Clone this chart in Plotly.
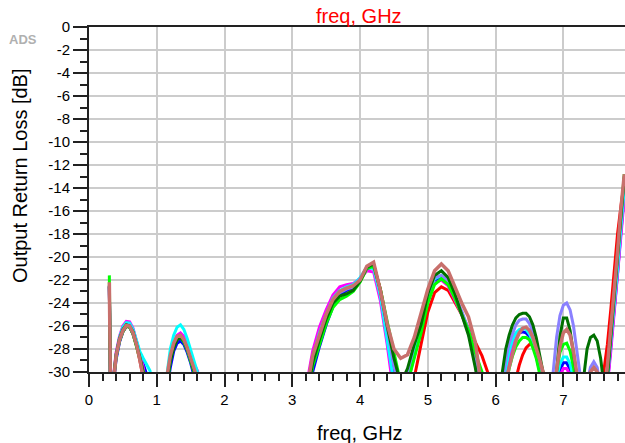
import plotly.graph_objects as go

# ---------------- data ----------------
freq_ghz = [
    0.30, 0.32, 0.35, 0.40, 0.45, 0.50, 0.55, 0.60, 0.65, 0.70, 0.75, 0.80, 0.85, 0.90, 0.95, 1.00,
    1.10, 1.15, 1.20, 1.25, 1.30, 1.35, 1.40, 1.45, 1.50, 1.55, 1.60, 1.65, 1.70,
    3.10,
    3.20, 3.30, 3.40, 3.50, 3.60, 3.70, 3.80, 3.90, 4.00, 4.10, 4.20, 4.30, 4.40, 4.50,
    4.60, 4.70, 4.80, 4.90, 5.00, 5.10, 5.20, 5.30, 5.40, 5.50, 5.60, 5.70, 5.80, 5.90,
    6.00, 6.05, 6.10, 6.15, 6.20, 6.25, 6.30, 6.35, 6.40, 6.45,
    6.50, 6.55, 6.60, 6.65, 6.70, 6.75, 6.80, 6.85, 6.90, 6.95,
    7.00, 7.05, 7.10, 7.15, 7.20, 7.25, 7.30, 7.35, 7.40, 7.45,
    7.50, 7.55, 7.60, 7.65, 7.70, 7.75, 7.80, 7.85, 7.90,
]

s22_red = [
    -22.6, -33, -31.5, -28.7, -27.3, -26.5, -26.05, -26.1, -26.7, -27.7, -29.0, -30.4, -32, -34, -36, -38,
    -33.5, -31, -29.0, -27.8, -27.2, -27.0, -27.3, -28.0, -28.9, -29.8, -31, -32.5, -34,
    -36,
    -32.5, -29, -27, -25.2, -23.9, -23.2, -22.9, -22.7, -22.1, -21.0, -20.7, -22.8, -25.8, -28.8,
    -31.5, -32, -30.5, -27.6, -24.8, -23.1, -22.6, -22.9, -23.9, -25.0, -26.2, -27.4, -28.6, -30.3,
    -35, -36, -36, -34.5, -33, -31.8, -30.6, -29.4, -28.5, -27.9,
    -27.6, -27.6, -28.0, -28.9, -30.0, -31.5, -33, -34, -33, -32,
    -31.2, -31.2, -32, -33, -34.5, -35.5, -36, -35, -34, -33.5,
    -33, -32.5, -29.8, -27.6, -24.6, -21.2, -18.0, -15.6, -13.4,
]

s22_blue = [
    -22.6, -33, -31.6, -28.9, -27.4, -26.5, -26.0, -26.1, -26.7, -27.7, -28.6, -29.3, -30.2, -32, -35, -38,
    -34, -31.5, -29.6, -28.2, -27.5, -27.3, -27.6, -28.3, -29.2, -30.2, -31.5, -33, -35,
    -36,
    -33, -30, -27.8, -25.9, -24.3, -23.3, -22.9, -22.6, -22.0, -21.0, -20.9, -23.2, -26.6, -30.5,
    -33, -31, -28.4, -25.8, -23.4, -22.1, -21.7, -22.3, -23.5, -24.9, -26.6, -29.0, -32, -34,
    -36, -34, -31.8, -29.9, -28.5, -27.5, -26.9, -26.6, -26.5, -26.6,
    -26.9, -27.6, -28.6, -29.8, -31.2, -33, -34, -33, -31.0, -29.8,
    -29.2, -29.2, -29.8, -31.0, -33, -35, -36, -35, -33, -32.5,
    -33, -34, -33.5, -31, -28.0, -24.8, -21.4, -17.8, -14.5,
]

s22_magenta = [
    -22.5, -33, -31, -28.3, -26.9, -26.0, -25.6, -25.65, -26.2, -27.2, -28.4, -29.6, -31.2, -33.5, -36, -38,
    -33, -30.6, -28.6, -27.4, -26.8, -26.6, -26.9, -27.6, -28.5, -29.3, -29.9, -31.2, -34,
    -36,
    -31.5, -28.2, -26.1, -24.6, -23.3, -22.6, -22.4, -22.3, -21.9, -21.2, -21.3, -23.8, -27.6, -32,
    -34, -31, -28.6, -26.0, -23.6, -22.3, -22.0, -22.5, -23.7, -25.0, -26.6, -29.0, -32, -34,
    -37, -35, -32.5, -30.6, -29.0, -27.8, -27.0, -26.5, -26.2, -26.2,
    -26.4, -27.0, -27.9, -29.0, -30.3, -32, -34, -33.5, -31.5, -30.3,
    -29.7, -29.7, -30.3, -31.5, -33, -35, -36, -35, -33.5, -33,
    -33.5, -34, -33.5, -31.2, -28.2, -25.0, -21.6, -18.0, -14.8,
]

s22_cyan = [
    -22.5, -33, -31.2, -28.5, -27.0, -26.1, -25.7, -25.75, -26.3, -27.3, -28.2, -28.8, -29.3, -29.9, -32, -36,
    -32.5, -30.0, -28.0, -26.8, -26.1, -25.9, -26.3, -27.1, -28.1, -29.1, -30.0, -31.5, -34,
    -36,
    -32, -28.8, -26.6, -25.0, -23.6, -22.9, -22.6, -22.4, -21.8, -20.9, -21.0, -23.4, -27.0, -31,
    -33, -30.6, -28.0, -25.5, -23.2, -21.9, -21.6, -22.2, -23.4, -24.8, -26.4, -28.9, -32, -34,
    -36, -34, -31.5, -29.6, -28.2, -27.2, -26.6, -26.3, -26.2, -26.3,
    -26.7, -27.4, -28.4, -29.7, -31.2, -33, -34, -32.5, -30.5, -29.3,
    -28.7, -28.7, -29.3, -30.6, -32.5, -34.5, -35.5, -34.5, -32.5, -32,
    -32.5, -33.5, -33, -30.6, -27.6, -24.4, -21.0, -17.4, -14.0,
]

s22_purple = [
    -22.5, -33, -31.4, -28.6, -27.2, -26.3, -25.9, -25.95, -26.55, -27.5, -28.8, -30.1, -31.8, -34, -36, -38,
    -33, -30.6, -28.8, -27.6, -27.0, -26.9, -27.3, -28.0, -28.9, -29.7, -30.7, -32, -34,
    -36,
    -32.5, -29.2, -27.0, -25.3, -23.9, -23.1, -22.8, -22.6, -21.9, -20.9, -20.8, -23.0, -26.2, -29.5,
    -32, -30.2, -27.6, -25.2, -23.0, -21.8, -21.6, -22.1, -23.3, -24.7, -26.3, -28.7, -32, -34,
    -35, -33, -30.8, -28.9, -27.5, -26.6, -25.9, -25.5, -25.4, -25.4,
    -25.8, -26.5, -27.6, -29.0, -30.7, -33, -33, -30.0, -27.0, -25.1,
    -24.2, -24.0, -24.6, -26.0, -28.0, -30.4, -32.5, -31, -29.6, -29.1,
    -29.6, -31.5, -32.5, -30.0, -26.8, -23.4, -20.0, -16.2, -13.2,
]

s22_green = [
    -21.6, -33, -31.3, -28.7, -27.3, -26.5, -26.0, -26.1, -26.7, -27.7, -28.8, -29.7, -31, -33.5, -36, -38,
    -33.5, -31, -29.0, -27.8, -27.1, -27.0, -27.4, -28.1, -29.0, -29.9, -31, -32.5, -34,
    -36,
    -33, -29.5, -27.6, -25.8, -24.4, -23.7, -23.4, -23.0, -22.2, -21.0, -20.8, -22.8, -25.6, -28.5,
    -31, -31, -28.8, -26.6, -24.0, -22.4, -21.9, -22.4, -23.6, -25.0, -26.4, -28.3, -30.0, -33,
    -37, -35, -33, -31.2, -29.7, -28.6, -27.8, -27.3, -27.0, -27.0,
    -27.2, -27.9, -28.8, -30.0, -31.5, -33, -34, -32.5, -30.0, -28.3,
    -27.6, -27.5, -28.2, -29.6, -31.5, -33.5, -35, -34, -32, -31.5,
    -32, -33, -33, -30.2, -26.8, -23.3, -19.8, -16.0, -12.8,
]

s22_darkgreen = [
    -22.5, -33, -31.2, -28.5, -27.1, -26.3, -25.9, -26.0, -26.5, -27.5, -28.7, -30.0, -31.8, -34, -36, -38,
    -33.5, -31, -29.1, -27.9, -27.2, -27.0, -27.3, -28.0, -28.9, -29.8, -30.9, -32.5, -34,
    -36,
    -32.5, -29.2, -27.2, -25.4, -24.0, -23.4, -23.2, -22.9, -22.1, -20.9, -20.6, -22.9, -26.0, -28.8,
    -31, -29.7, -27.6, -25.9, -23.2, -21.6, -21.2, -21.8, -23.2, -24.9, -26.8, -29.6, -33, -35,
    -35, -32, -29.8, -28.0, -26.8, -25.9, -25.3, -25.0, -24.9, -24.9,
    -25.2, -25.9, -27.0, -28.4, -30.0, -32, -34, -33, -30.0, -26.9,
    -25.3, -25.3, -26.4, -28.3, -30.4, -33, -30.3, -28.0, -27.0, -26.8,
    -27.3, -28.8, -31.2, -30.5, -27.0, -23.6, -20.2, -16.4, -13.0,
]

s22_rosy = [
    -22.2, -33, -31.5, -28.6, -27.2, -26.4, -25.95, -26.0, -26.6, -27.6, -28.9, -30.3, -32, -34, -36, -38,
    -33, -30.4, -28.6, -27.5, -26.9, -26.8, -27.2, -27.9, -28.8, -29.6, -30.6, -32, -34,
    -36,
    -32, -28.6, -26.7, -25.0, -23.7, -23.0, -22.7, -22.5, -22.0, -20.8, -20.45, -22.9, -25.8, -28.0,
    -28.8, -28.5, -27.0, -25.0, -22.8, -21.2, -20.6, -21.2, -22.6, -24.0, -25.2, -27.4, -31.5, -34,
    -37, -35, -32.5, -30.8, -29.6, -28.3, -27.3, -26.6, -26.2, -26.1,
    -26.4, -27.0, -27.9, -28.9, -30.0, -31.5, -33, -32, -29.8, -27.8,
    -26.6, -26.3, -26.8, -28.2, -30.2, -32.5, -34, -32, -30.0, -29.6,
    -30.0, -32, -32.5, -29.5, -26.4, -23.0, -19.6, -15.8, -12.8,
]

x_tick_vals = [0, 1, 2, 3, 4, 5, 6, 7]
x_tick_text = ["0", "1", "2", "3", "4", "5", "6", "7"]
y_tick_vals = [0, -2, -4, -6, -8, -10, -12, -14, -16, -18, -20, -22, -24, -26, -28, -30]
y_tick_text = ["0", "-2", "-4", "-6", "-8", "-10", "-12", "-14", "-16", "-18",
               "-20", "-22", "-24", "-26", "-28", "-30"]

series = [
    (s22_red, "#FF0000", 3),
    (s22_blue, "#0000FF", 3),
    (s22_magenta, "#FF00FF", 3),
    (s22_cyan, "#00FFFF", 3),
    (s22_purple, "#8A80FF", 3),
    (s22_green, "#00FF00", 3),
    (s22_darkgreen, "#007000", 3),
    (s22_rosy, "#C8706C", 3.5),
]

# ---------------- figure ----------------
FONT = "Liberation Sans, Arial, sans-serif"
fig = go.Figure()
for vals, col, w in series:
    fig.add_trace(go.Scatter(x=freq_ghz, y=vals, mode="lines",
                             line=dict(color=col, width=w), hoverinfo="skip"))

fig.update_layout(
    width=625, height=443,
    margin=dict(l=89, r=0, t=27, b=71),
    plot_bgcolor="white", paper_bgcolor="white",
    showlegend=False,
    font=dict(family=FONT, size=15, color="black"),
)

fig.update_xaxes(
    range=[0, 7.91], tickmode="array", tickvals=x_tick_vals, ticktext=x_tick_text,
    showgrid=True, gridcolor="#CCCCCC", gridwidth=1.5,
    showline=True, linecolor="#222222", linewidth=2, mirror=True,
    ticks="outside", ticklen=13, tickwidth=2, tickcolor="#222222",
    minor=dict(dtick=0.2, tick0=0, ticks="outside", ticklen=7, tickwidth=2,
               tickcolor="#222222", showgrid=False),
    zeroline=False,
    tickfont=dict(family=FONT, size=15, color="black"),
)
fig.update_yaxes(
    range=[-30.001, 0.001], tickmode="array", tickvals=y_tick_vals, ticktext=y_tick_text,
    showgrid=True, gridcolor="#CCCCCC", gridwidth=1.5,
    showline=True, linecolor="#222222", linewidth=2,
    ticks="outside", ticklen=14, tickwidth=2, tickcolor="#222222",
    minor=dict(dtick=1, tick0=0, ticks="outside", ticklen=7, tickwidth=2,
               tickcolor="#222222", showgrid=False),
    zeroline=False,
    tickfont=dict(family=FONT, size=15, color="black"),
)

fig.add_annotation(text="freq, GHz", xref="paper", yref="paper", x=0.504, y=1,
                   yshift=11, xanchor="center", yanchor="middle", showarrow=False,
                   font=dict(family=FONT, size=20, color="#FF0000"))
fig.add_annotation(text="freq, GHz", xref="paper", yref="paper", x=0.505, y=0,
                   yshift=-61, xanchor="center", yanchor="middle", showarrow=False,
                   font=dict(family=FONT, size=20, color="black"))
fig.add_annotation(text="Output Return Loss [dB]", xref="paper", yref="paper",
                   x=0, xshift=-69, y=0.568, textangle=-90,
                   xanchor="center", yanchor="middle", showarrow=False,
                   font=dict(family=FONT, size=20, color="black"))
fig.add_annotation(text="<b>ADS</b>", xref="paper", yref="paper", x=0, xshift=-66,
                   y=1, yshift=-12, xanchor="center", yanchor="middle", showarrow=False,
                   font=dict(family=FONT, size=13, color="#B0B0B0"))

# remove the default 8 px page margin so the 625x443 figure fills the window
fig.write_html("out.html",
               config={"displayModeBar": False},
               post_script="document.body.style.margin='0';document.body.style.overflow='hidden';")
